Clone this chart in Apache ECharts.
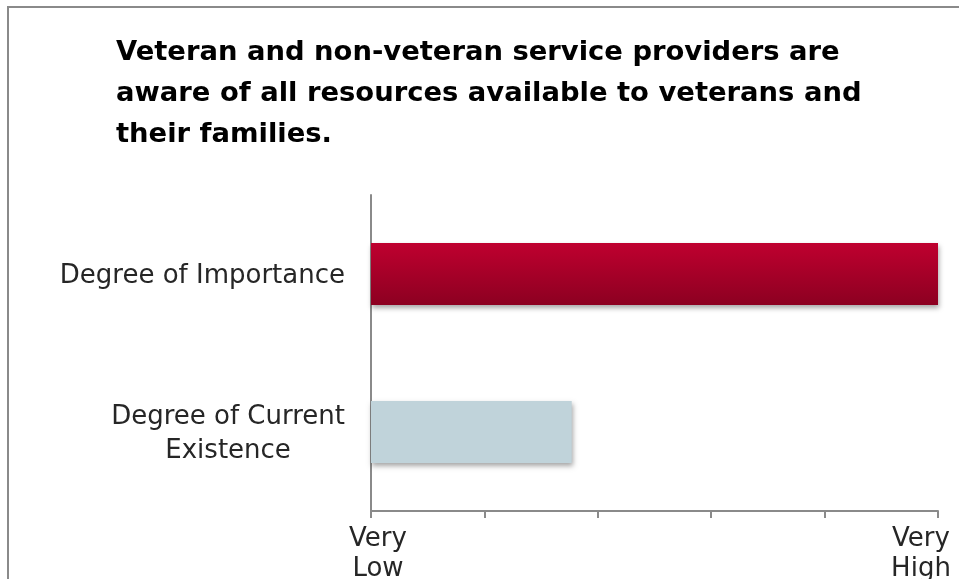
<!DOCTYPE html>
<html>
<head>
<meta charset="utf-8">
<script src="https://cdn.jsdelivr.net/npm/echarts@6/dist/echarts.min.js"></script>
<style>
  html, body { margin: 0; padding: 0; background: #fff; }
  #chart { width: 959px; height: 579px; }
</style>
</head>
<body>
<div id="chart"></div>
<script>
// Survey item: rating of importance vs. current existence
const titleLines = [
  'Veteran and non-veteran service providers are',
  'aware of all resources available to veterans and',
  'their families.'
];
const categories = ['Degree of Importance', 'Degree of Current Existence'];
const ratings = [5, 1.77];
const scaleMin = 0;
const scaleMax = 5;
const scaleLabels = { 0: 'Very\nLow', 5: 'Very\nHigh' };

const barStyles = [
  {
    color: new echarts.graphic.LinearGradient(0, 0, 0, 1, [
      { offset: 0, color: '#bf002f' },
      { offset: 1, color: '#8c0021' }
    ])
  },
  { color: '#c0d3da' }
];

const chart = echarts.init(document.getElementById('chart'), null, { renderer: 'canvas' });

const labelFont = 'DejaVu Sans';
const labelColor = '#262626';

chart.setOption({
  animation: false,
  backgroundColor: '#ffffff',
  graphic: [{
    type: 'rect',
    shape: { x: 8, y: 7, width: 1000, height: 700 },
    style: { fill: 'none', stroke: '#8a8a8a', lineWidth: 2 },
    silent: true
  }],
  title: {
    text: titleLines.join('\n'),
    left: 116,
    top: 32,
    padding: 0,
    textStyle: {
      fontFamily: labelFont,
      fontWeight: 'bold',
      fontSize: 27.4,
      lineHeight: 41,
      color: '#000'
    }
  },
  grid: { left: 371, right: 21, top: 195, bottom: 68, containLabel: false, outerBoundsMode: 'none' },
  xAxis: {
    type: 'value',
    min: scaleMin,
    max: scaleMax,
    interval: 1,
    splitLine: { show: false },
    axisLine: { show: true, lineStyle: { color: '#8a8a8a', width: 2 } },
    axisTick: { show: true, length: 7, lineStyle: { color: '#8a8a8a', width: 2 } },
    axisLabel: {
      show: true,
      margin: 13,
      hideOverlap: false,
      formatter: function (v) {
        if (v === scaleMin) return '{lo|' + scaleLabels[v].split('\n').join('}\n{lo|') + '}';
        if (v === scaleMax) return '{hi|' + scaleLabels[v].split('\n').join('}\n{hi|') + '}';
        return '';
      },
      rich: {
        lo: { fontFamily: labelFont, fontSize: 26, lineHeight: 30, color: labelColor, padding: [0, 0, 0, 14] },
        hi: { fontFamily: labelFont, fontSize: 26, lineHeight: 30, color: labelColor, padding: [0, 34, 0, 0] }
      }
    }
  },
  yAxis: {
    type: 'category',
    inverse: true,
    data: categories,
    axisLine: { show: true, lineStyle: { color: '#8a8a8a', width: 2 } },
    axisTick: { show: false },
    axisLabel: {
      margin: 26,
      formatter: function (v) {
        if (v === 'Degree of Current Existence') return '{c|Degree of Current}\n{c|Existence}';
        return '{c|' + v + '}';
      },
      rich: {
        c: { fontFamily: labelFont, fontSize: 26, lineHeight: 34, color: labelColor, align: 'center', padding: [4, 0, 0, 0] }
      }
    }
  },
  series: [{
    type: 'bar',
    barWidth: 62,
    data: ratings.map((v, i) => ({
      value: v,
      itemStyle: Object.assign({
        shadowBlur: 5,
        shadowOffsetX: 1,
        shadowOffsetY: 3,
        shadowColor: 'rgba(0,0,0,0.35)'
      }, barStyles[i])
    }))
  }]
});
</script>
</body>
</html>
